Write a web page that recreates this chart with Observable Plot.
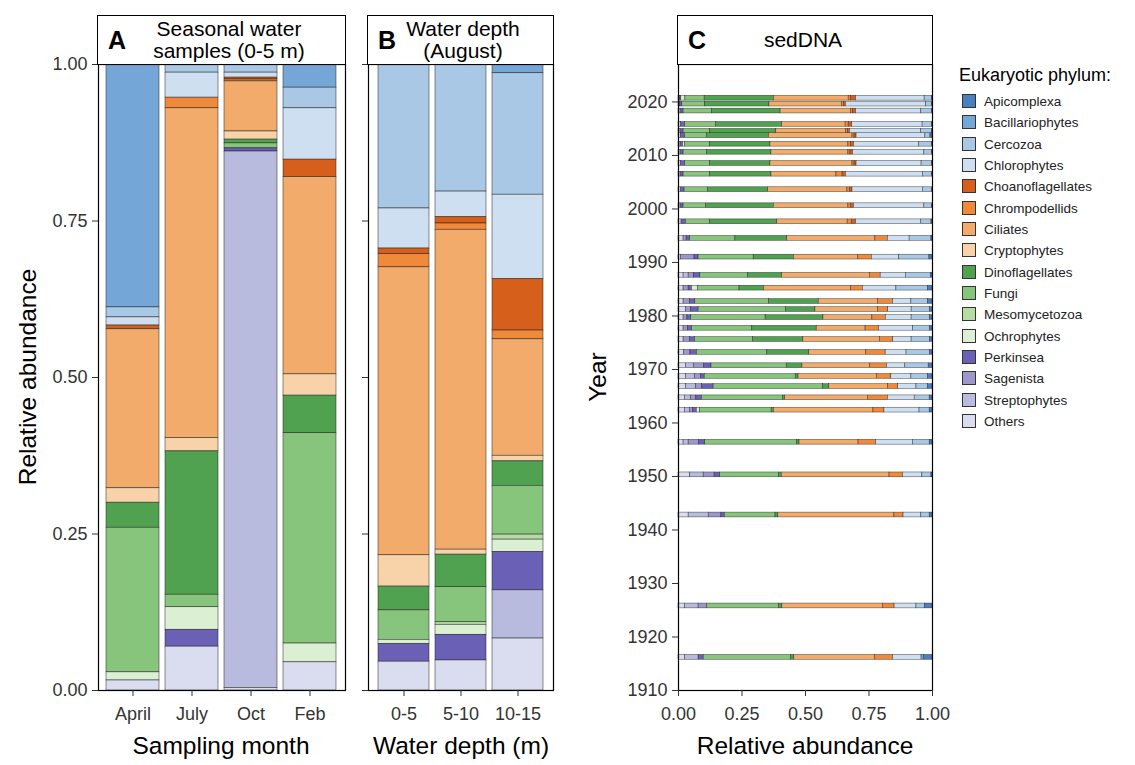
<!DOCTYPE html>
<html><head><meta charset="utf-8">
<script src="https://cdn.jsdelivr.net/npm/d3@7"></script>
<script src="https://cdn.jsdelivr.net/npm/@observablehq/plot@0.6"></script>
<style>
html,body{margin:0;padding:0;background:#fff;}
#root{position:relative;width:1135px;height:765px;overflow:hidden;font-family:"Liberation Sans",Arial,sans-serif;color:#000;}
.strip{position:absolute;box-sizing:border-box;border:1px solid #000;background:#fff;}
.strip .tag{position:absolute;left:10px;top:50%;transform:translateY(-50%);font-weight:bold;font-size:25px;}
.strip .lbl{position:absolute;top:50%;transform:translate(-50%,-50%);text-align:center;font-size:21px;line-height:22px;white-space:nowrap;}
.title{position:absolute;font-size:24.5px;white-space:nowrap;}
.legtitle{position:absolute;font-size:18px;white-space:nowrap;}
.sw{position:absolute;width:14px;height:14px;box-sizing:border-box;border:1px solid #333;}
.lt{position:absolute;font-size:13.5px;white-space:nowrap;color:#222;transform:translateY(-50%);}
</style></head><body><div id="root"></div>
<script>
// ---------- categories ----------
const phyla = ["Apicomplexa","Bacillariophytes","Cercozoa","Chlorophytes","Choanoflagellates","Chrompodellids","Ciliates","Cryptophytes","Dinoflagellates","Fungi","Mesomycetozoa","Ochrophytes","Perkinsea","Sagenista","Streptophytes","Others"];
const phylumColors = ["#4a7fc0","#74a7d8","#a9c8e5","#cfdff2","#d65f1c","#f0893a","#f2ab6a","#f8d3a9","#50a250","#88c57c","#b5dca3","#dbefd3","#6a60b6","#9c98cc","#b8bbdd","#dadcef"];
const monthLabels = ["April","July","Oct","Feb"];
const depthLabels = ["0-5","5-10","10-15"];
const abundanceTicks = [0, 0.25, 0.5, 0.75, 1];
const yearTicks = [1910,1920,1930,1940,1950,1960,1970,1980,1990,2000,2010,2020];

// ---------- panel A: seasonal samples (values in phylum order) ----------
const april = [0,0.388,0.016,0.013,0.006,0,0.254,0.023,0.040,0.231,0,0.013,0,0,0,0.016];
const july  = [0,0,0.013,0.040,0,0.017,0.527,0.021,0.229,0.020,0,0.036,0.027,0,0,0.070];
const oct   = [0,0,0.013,0.008,0.003,0.003,0.080,0.013,0.006,0.008,0,0,0.005,0,0.857,0.004];
const feb   = [0,0.037,0.033,0.082,0.028,0,0.315,0.034,0.060,0.336,0,0.030,0,0,0,0.045];

// ---------- panel B: water depth ----------
const depth0to5   = [0,0,0.230,0.064,0.009,0.021,0.460,0.050,0.038,0.047,0,0.007,0.028,0,0,0.046];
const depth5to10  = [0,0,0.203,0.041,0.010,0.010,0.511,0.008,0.052,0.056,0.004,0.016,0.041,0,0,0.048];
const depth10to15 = [0,0.014,0.194,0.135,0.082,0.014,0.186,0.009,0.039,0.078,0.008,0.020,0.061,0,0.077,0.083];

// ---------- panel C: sedDNA ----------
const sedYears = [2020.7,2019.6,2018.3,2015.8,2014.5,2013.7,2012.1,2010.6,2008.5,2006.5,2003.6,2000.6,1997.6,1994.5,1991.0,1987.6,1985.2,1982.7,1981.2,1979.7,1977.7,1975.6,1973.2,1970.7,1968.7,1966.8,1964.7,1962.4,1956.4,1950.3,1942.8,1925.8,1916.2];
const sedApicomplexa = [0.001,0.001,0.001,0.002,0.002,0.008,0.002,0.002,0.002,0.003,0.003,0.002,0.004,0.004,0.012,0.006,0.017,0.017,0.010,0.010,0.010,0.010,0.010,0.015,0.017,0.017,0.011,0.011,0.011,0.004,0.011,0.030,0.033];
const sedBacillariophytes = [0,0,0,0,0,0,0,0,0,0,0,0,0,0,0,0,0,0,0,0,0,0,0,0,0,0,0,0,0,0,0,0,0.010];
const sedCercozoa = [0.030,0.024,0.043,0.037,0.043,0.020,0.050,0.030,0.041,0.035,0.035,0.030,0.040,0.086,0.119,0.099,0.125,0.066,0.072,0.072,0.066,0.072,0.092,0.092,0.066,0.046,0.059,0.040,0.066,0.036,0.033,0.033,0];
const sedChlorophytes = [0.270,0.316,0.257,0.277,0.280,0.271,0.257,0.281,0.256,0.303,0.277,0.277,0.257,0.086,0.108,0.099,0.132,0.072,0.092,0.101,0.134,0.072,0.082,0.072,0.079,0.072,0.105,0.138,0.145,0.076,0.070,0.086,0.112];
const sedChoanoflagellates = [0.020,0.008,0.012,0.014,0.008,0.008,0.012,0.010,0.008,0.013,0.010,0.012,0.017,0,0,0,0,0,0,0,0,0,0,0,0,0,0,0,0,0,0,0,0];
const sedChrompodellids = [0.009,0.008,0.008,0.012,0.008,0.008,0.010,0.008,0.008,0.024,0.010,0.010,0.016,0.049,0.053,0.043,0.046,0.059,0.040,0.053,0.053,0.053,0.076,0.066,0.057,0.040,0.079,0.043,0.069,0.053,0.036,0.046,0.072];
const sedCiliates = [0.294,0.285,0.277,0.250,0.274,0.329,0.307,0.303,0.323,0.256,0.312,0.294,0.277,0.347,0.254,0.345,0.343,0.233,0.246,0.192,0.192,0.300,0.224,0.267,0.308,0.231,0.325,0.391,0.232,0.424,0.457,0.395,0.316];
const sedCryptophytes = [0,0,0,0,0,0,0,0,0,0,0,0,0,0,0,0,0,0,0,0,0,0,0,0,0,0,0,0,0,0,0,0,0];
const sedDinoflagellates = [0.273,0.253,0.270,0.261,0.260,0.244,0.237,0.254,0.237,0.241,0.237,0.267,0.264,0.204,0.158,0.134,0.096,0.195,0.116,0.227,0.253,0.198,0.165,0.062,0.011,0.024,0.008,0.009,0.009,0.011,0.011,0.013,0.013];
const sedFungi = [0.076,0.090,0.112,0.121,0.105,0.086,0.099,0.092,0.099,0.105,0.092,0.088,0.096,0.178,0.217,0.188,0.163,0.290,0.343,0.292,0.237,0.227,0.277,0.296,0.358,0.431,0.319,0.281,0.362,0.231,0.200,0.283,0.343];
const sedMesomycetozoa = [0,0,0,0,0,0,0,0,0,0,0,0,0,0,0,0,0,0,0,0,0,0,0,0,0,0,0,0,0,0,0,0,0];
const sedOchrophytes = [0.016,0,0,0,0,0,0.008,0,0,0,0,0,0,0,0,0,0.024,0,0,0,0,0,0,0,0,0,0,0.013,0,0,0,0,0];
const sedPerkinsea = [0.006,0.010,0.012,0.016,0.012,0.016,0.010,0.012,0.016,0.012,0.014,0.012,0.017,0.014,0.016,0.026,0.013,0.020,0.029,0.015,0.015,0.020,0.025,0.030,0.015,0.046,0.022,0.015,0.025,0.022,0.013,0,0.020];
const sedSagenista = [0,0,0,0,0,0,0,0,0,0,0,0,0,0.012,0.053,0.020,0.020,0.026,0.020,0.015,0.018,0.025,0.025,0.040,0.023,0.022,0.020,0.012,0.040,0.043,0.050,0.033,0];
const sedStreptophytes = [0,0,0,0,0,0,0,0,0,0,0,0,0,0,0,0.020,0,0,0,0,0,0,0,0.030,0.035,0.040,0.025,0.020,0.020,0.053,0.079,0.053,0.053];
const sedOthers = [0.005,0.005,0.008,0.010,0.008,0.010,0.008,0.008,0.010,0.008,0.010,0.008,0.012,0.020,0.010,0.020,0.020,0.020,0.030,0.020,0.020,0.020,0.022,0.030,0.030,0.030,0.025,0.025,0.020,0.046,0.040,0.026,0.026];

// ---------- build tables ----------
const stackOrder = phyla.slice().reverse();
function sampleRows(labels, samples) {
  const rows = [];
  labels.forEach((s, i) => phyla.forEach((p, j) => {
    if (samples[i][j] > 0) rows.push({sample: s, phylum: p, value: samples[i][j]});
  }));
  return rows;
}
const aRows = sampleRows(monthLabels, [april, july, oct, feb]);
const bRows = sampleRows(depthLabels, [depth0to5, depth5to10, depth10to15]);

const sedSeries = [sedApicomplexa,sedBacillariophytes,sedCercozoa,sedChlorophytes,sedChoanoflagellates,sedChrompodellids,sedCiliates,sedCryptophytes,sedDinoflagellates,sedFungi,sedMesomycetozoa,sedOchrophytes,sedPerkinsea,sedSagenista,sedStreptophytes,sedOthers];
const cRows = [];
sedYears.forEach((yr, i) => {
  const vals = sedSeries.map(s => s[i]);
  const total = d3.sum(vals);
  let acc = 0;
  for (let j = phyla.length - 1; j >= 0; j--) {
    const v = vals[j] / total;
    if (v > 0) cRows.push({year: yr, phylum: phyla[j], x1: acc, x2: acc + v});
    acc += v;
  }
});

const baseStyle = {fontSize: "18px", fontFamily: "Liberation Sans, Arial, sans-serif", color: "#333", background: "transparent", overflow: "visible"};
const colorScale = {domain: phyla, range: phylumColors};
const segStroke = {stroke: "#1a1a1a", strokeWidth: 0.6, strokeOpacity: 0.8};
const tickFont = 18;

const root = document.getElementById("root");
function place(el, left, top) {
  el.style.position = "absolute"; el.style.left = left + "px"; el.style.top = top + "px";
  root.appendChild(el);
}

// Panel A
const aPlot = Plot.plot({
  width: 350, height: 686, marginLeft: 98, marginRight: 5, marginTop: 10, marginBottom: 50,
  style: baseStyle,
  x: {domain: monthLabels, paddingInner: 0.1, paddingOuter: 0.11},
  y: {domain: [0, 1]},
  color: colorScale,
  marks: [
    Plot.barY(aRows, {x: "sample", y: "value", fill: "phylum", order: stackOrder, offset: "normalize", ...segStroke}),
    Plot.frame({stroke: "#000", strokeWidth: 1.2}),
    Plot.axisX({tickSize: 6, tickPadding: 11, label: null, stroke: "#333", fontSize: tickFont}),
    Plot.axisY({ticks: abundanceTicks, tickFormat: d3.format(".2f"), tickSize: 6, tickPadding: 5, label: null, stroke: "#333", fontSize: tickFont})
  ]
});
place(aPlot, 0, 54);

// Panel B
const bPlot = Plot.plot({
  width: 203, height: 686, marginLeft: 13, marginRight: 5, marginTop: 10, marginBottom: 50,
  style: baseStyle,
  x: {domain: depthLabels, paddingInner: 0.1, paddingOuter: 0.15},
  y: {domain: [0, 1]},
  color: colorScale,
  marks: [
    Plot.barY(bRows, {x: "sample", y: "value", fill: "phylum", order: stackOrder, offset: "normalize", ...segStroke}),
    Plot.frame({stroke: "#000", strokeWidth: 1.2}),
    Plot.axisX({tickSize: 6, tickPadding: 11, label: null, stroke: "#333", fontSize: tickFont}),
    Plot.axisY({ticks: abundanceTicks, tickFormat: () => "", tickSize: 6, label: null, stroke: "#333"})
  ]
});
place(bPlot, 355, 54);

// Panel C
const cPlot = Plot.plot({
  width: 352, height: 686, marginLeft: 73, marginRight: 25, marginTop: 10, marginBottom: 50,
  style: baseStyle,
  x: {domain: [0, 1]},
  y: {domain: [1910, 2027]},
  color: colorScale,
  marks: [
    Plot.rect(cRows, {x1: "x1", x2: "x2", y1: d => d.year - 0.45, y2: d => d.year + 0.45, fill: "phylum", stroke: "#1a1a1a", strokeWidth: 0.5, strokeOpacity: 0.8}),
    Plot.frame({stroke: "#000", strokeWidth: 1.2}),
    Plot.axisX({ticks: abundanceTicks, tickFormat: d3.format(".2f"), tickSize: 6, tickPadding: 11, label: null, stroke: "#333", fontSize: tickFont}),
    Plot.axisY({ticks: yearTicks, tickFormat: d => String(d), tickSize: 6, tickPadding: 5, label: null, stroke: "#333", fontSize: tickFont})
  ]
});
place(cPlot, 605, 54);

// ---------- strips ----------
function strip(left, width, tag, lines, center) {
  const d = document.createElement("div");
  d.className = "strip";
  d.style.left = left + "px"; d.style.top = "15px"; d.style.width = width + "px"; d.style.height = "50px";
  const t = document.createElement("div"); t.className = "tag"; t.textContent = tag; d.appendChild(t);
  const l = document.createElement("div"); l.className = "lbl"; l.style.left = center + "px";
  l.innerHTML = lines.join("<br>");
  d.appendChild(l);
  root.appendChild(d);
}
strip(97, 249, "A", ["Seasonal water", "samples (0-5 m)"], 131);
strip(367, 187, "B", ["Water depth", "(August)"], 95);
strip(677, 256, "C", ["sedDNA"], 125);

// ---------- axis titles ----------
function title(text, cx, cy, rotate) {
  const d = document.createElement("div");
  d.className = "title"; d.textContent = text;
  d.style.left = cx + "px"; d.style.top = cy + "px";
  d.style.transform = "translate(-50%,-50%)" + (rotate ? " rotate(-90deg)" : "");
  root.appendChild(d);
}
title("Relative abundance", 28, 377, true);
title("Sampling month", 221, 746, false);
title("Water depth (m)", 461, 746, false);
title("Year", 598, 377, true);
title("Relative abundance", 805, 746, false);

// ---------- legend ----------
const lt = document.createElement("div");
lt.className = "legtitle"; lt.textContent = "Eukaryotic phylum:";
lt.style.left = "959px"; lt.style.top = "65px";
root.appendChild(lt);
phyla.forEach((p, i) => {
  const cy = 101 + i * 21.33;
  const s = document.createElement("div");
  s.className = "sw"; s.style.left = "962px"; s.style.top = (cy - 7) + "px"; s.style.background = phylumColors[i];
  root.appendChild(s);
  const t = document.createElement("div");
  t.className = "lt"; t.textContent = p; t.style.left = "984px"; t.style.top = cy + "px";
  root.appendChild(t);
});
</script></body></html>
